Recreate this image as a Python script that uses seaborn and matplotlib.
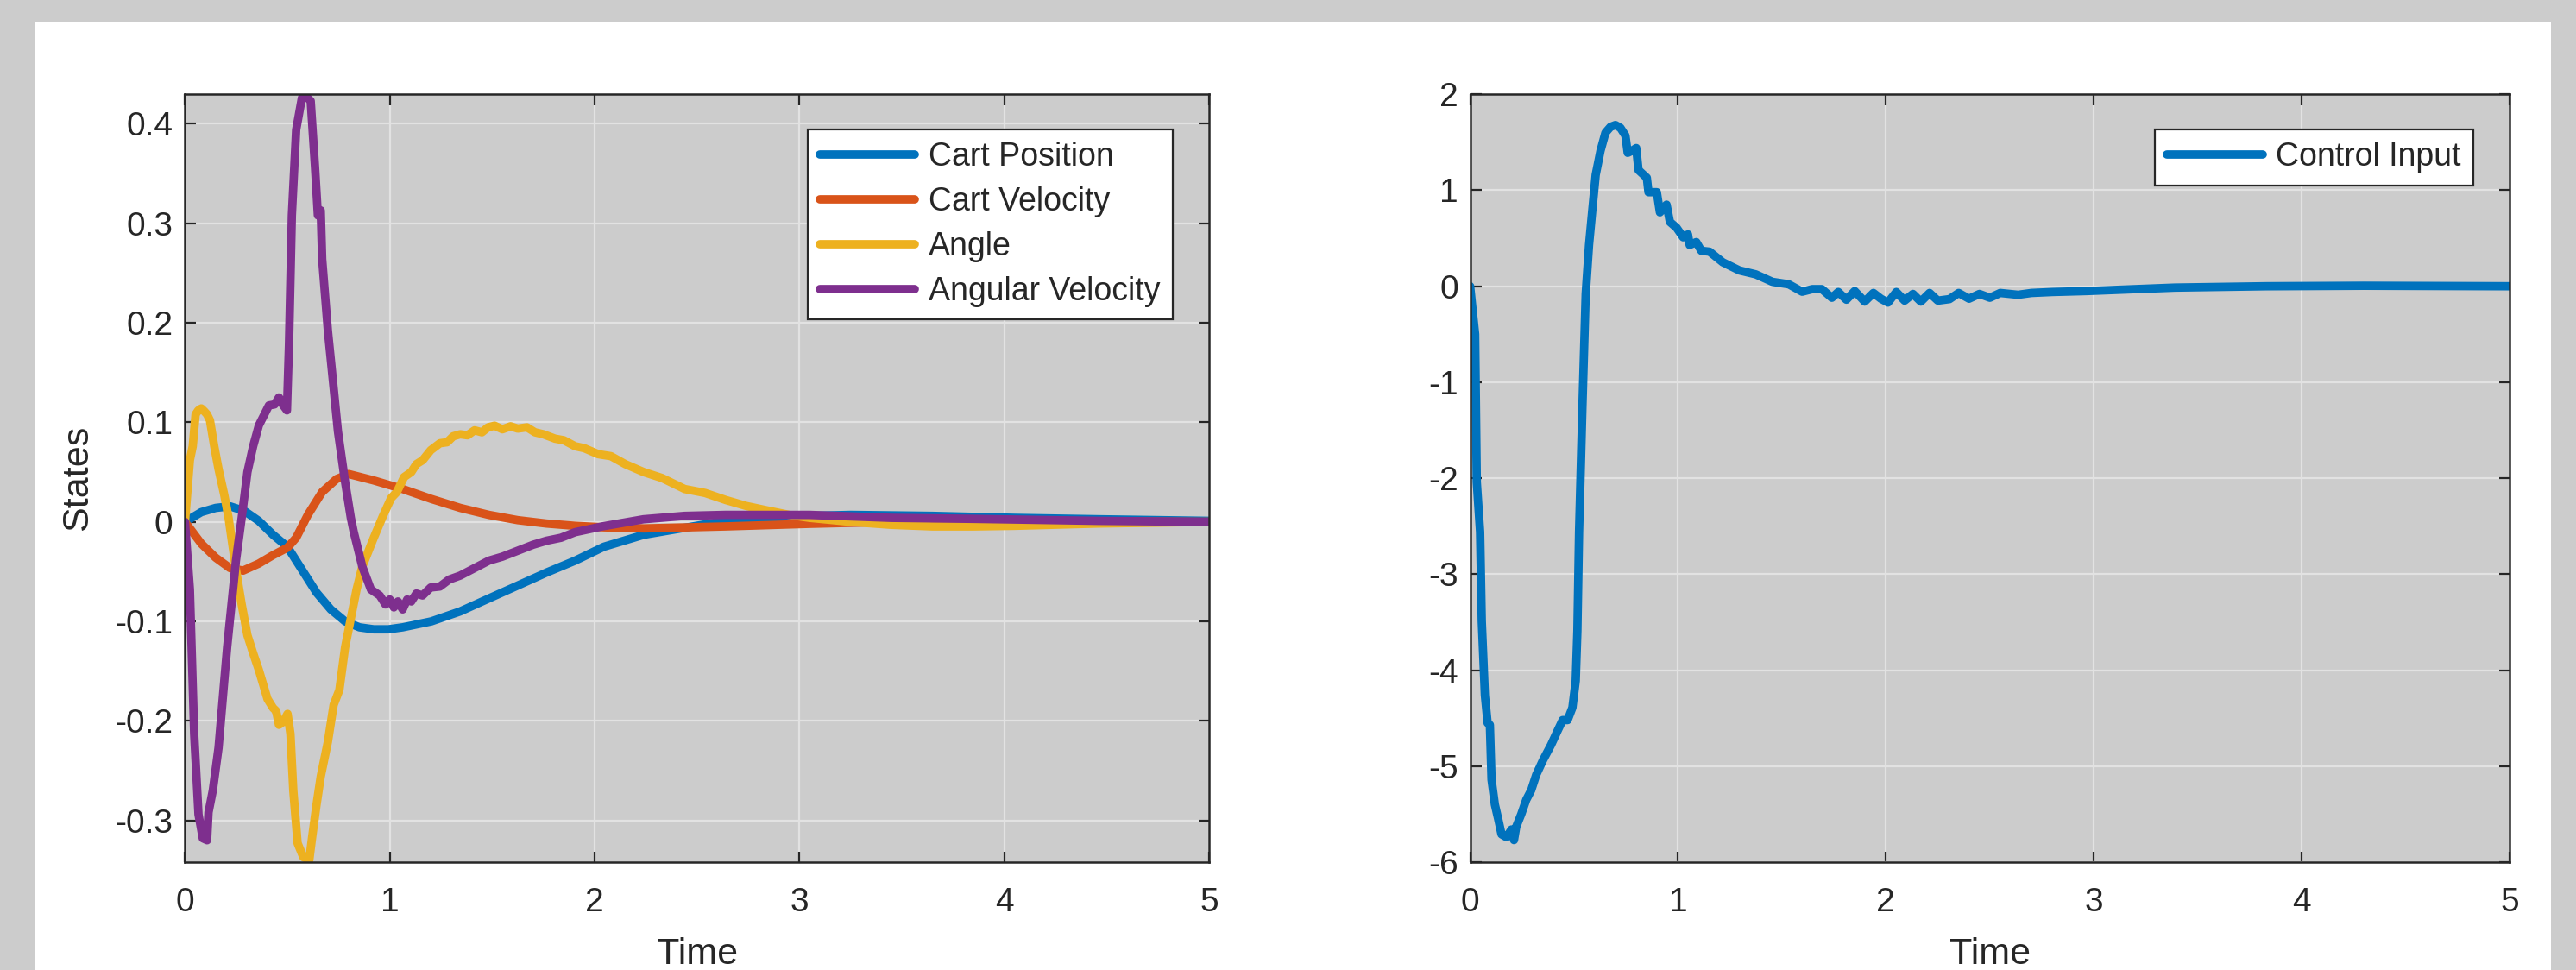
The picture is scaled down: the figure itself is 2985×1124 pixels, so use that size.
import matplotlib
matplotlib.use('Agg')
import matplotlib.pyplot as plt
import seaborn as sns
import pandas as pd
from matplotlib.patches import Rectangle
from matplotlib.ticker import FuncFormatter

# --- data ---
pos_t = [0, 0.08, 0.15, 0.22, 0.29, 0.36, 0.43, 0.50, 0.571, 0.642, 0.712, 0.782, 0.852, 0.922, 0.993,
         1.063, 1.203, 1.344, 1.484, 1.625, 1.765, 1.905, 2.046, 2.24, 2.44, 2.64, 2.84, 3.05, 3.25, 3.65,
         4.05, 4.46, 5.0]
pos_v = [0, 0.0098, 0.014, 0.0156, 0.011, 0.001, -0.013, -0.025, -0.048, -0.071, -0.088, -0.100, -0.106,
         -0.108, -0.108, -0.106, -0.100, -0.090, -0.077, -0.064, -0.051, -0.039, -0.025, -0.013, -0.006,
         0.001, 0.004, 0.006, 0.007, 0.006, 0.004, 0.0026, 0.001]

vel_t = [0, 0.08, 0.15, 0.22, 0.284, 0.36, 0.43, 0.50, 0.543, 0.60, 0.67, 0.74, 0.80, 0.922, 1.063, 1.203,
         1.344, 1.484, 1.625, 1.765, 1.905, 2.046, 2.24, 2.64, 3.05, 3.45, 3.85, 4.5, 5.0]
vel_v = [0, -0.022, -0.036, -0.0465, -0.049, -0.042, -0.0335, -0.026, -0.016, 0.007, 0.03, 0.043, 0.048,
         0.0416, 0.033, 0.023, 0.014, 0.007, 0.0017, -0.0017, -0.004, -0.0055, -0.0066, -0.0046, -0.002,
         0.0, 0.0009, 0.0005, 0.0]

ang_t = [0, 0.024, 0.038, 0.052, 0.065, 0.08, 0.095, 0.108, 0.122, 0.143, 0.164, 0.192, 0.213, 0.249,
         0.277, 0.305, 0.333, 0.361, 0.403, 0.43, 0.445, 0.459, 0.48, 0.501, 0.515, 0.529, 0.55, 0.578,
         0.607, 0.621, 0.642, 0.663, 0.698, 0.726, 0.754, 0.782, 0.81, 0.838, 0.866, 0.922, 0.965, 1.007,
         1.035, 1.07, 1.105, 1.13, 1.161, 1.2, 1.245, 1.28, 1.31, 1.344, 1.38, 1.414, 1.45, 1.48, 1.512,
         1.55, 1.59, 1.625, 1.67, 1.709, 1.75, 1.807, 1.85, 1.905, 1.95, 2.018, 2.08, 2.15, 2.24, 2.33,
         2.44, 2.54, 2.64, 2.74, 2.84, 2.95, 3.05, 3.25, 3.45, 3.65, 3.85, 4.05, 4.46, 5.0]
ang_v = [0, 0.062, 0.076, 0.108, 0.112, 0.114, 0.111, 0.108, 0.102, 0.076, 0.053, 0.027, 0.004, -0.048,
         -0.083, -0.114, -0.132, -0.149, -0.178, -0.187, -0.19, -0.204, -0.201, -0.193, -0.213, -0.27,
         -0.323, -0.337, -0.34, -0.317, -0.285, -0.256, -0.221, -0.184, -0.169, -0.126, -0.097, -0.068,
         -0.045, -0.016, 0.005, 0.024, 0.030, 0.045, 0.050, 0.058, 0.062, 0.072, 0.079, 0.080, 0.086,
         0.088, 0.087, 0.092, 0.090, 0.095, 0.0966, 0.093, 0.096, 0.0937, 0.095, 0.090, 0.088, 0.0836,
         0.082, 0.076, 0.074, 0.068, 0.066, 0.058, 0.050, 0.044, 0.033, 0.029, 0.022, 0.016, 0.0116,
         0.007, 0.004, 0.0, -0.003, -0.0046, -0.0046, -0.004, -0.0017, 0.0]

angvel_t = [0, 0.024, 0.045, 0.066, 0.087, 0.108, 0.115, 0.136, 0.164, 0.206, 0.249, 0.277, 0.305, 0.333,
            0.361, 0.41, 0.438, 0.459, 0.48, 0.498, 0.508, 0.522, 0.543, 0.571, 0.585, 0.614, 0.635, 0.649,
            0.663, 0.67, 0.698, 0.719, 0.747, 0.782, 0.81, 0.824, 0.866, 0.908, 0.951, 0.979, 1.0, 1.02,
            1.04, 1.063, 1.085, 1.105, 1.13, 1.16, 1.2, 1.245, 1.29, 1.344, 1.4, 1.484, 1.55, 1.625, 1.7,
            1.765, 1.836, 1.905, 2.037, 2.239, 2.44, 2.64, 3.05, 3.45, 3.85, 4.46, 5.0]
angvel_v = [0, -0.068, -0.213, -0.294, -0.318, -0.32, -0.292, -0.27, -0.227, -0.126, -0.039, 0.004, 0.05,
            0.076, 0.097, 0.117, 0.118, 0.125, 0.117, 0.112, 0.178, 0.308, 0.394, 0.426, 0.429, 0.423,
            0.357, 0.308, 0.313, 0.264, 0.192, 0.149, 0.091, 0.04, 0.004, -0.01, -0.045, -0.068, -0.074,
            -0.083, -0.078, -0.086, -0.080, -0.088, -0.078, -0.08, -0.072, -0.074, -0.066, -0.065, -0.058,
            -0.054, -0.048, -0.039, -0.035, -0.029, -0.023, -0.019, -0.016, -0.0104, -0.0046, 0.0026,
            0.006, 0.007, 0.007, 0.004, 0.003, 0.001, 0.0]

ctrl_t = [0, 0.024, 0.032, 0.048, 0.056, 0.071, 0.084, 0.095, 0.103, 0.119, 0.135, 0.151, 0.175, 0.199,
          0.211, 0.222, 0.246, 0.27, 0.294, 0.318, 0.35, 0.389, 0.421, 0.445, 0.469, 0.492, 0.508, 0.516,
          0.524, 0.54, 0.556, 0.572, 0.588, 0.604, 0.627, 0.651, 0.675, 0.699, 0.723, 0.747, 0.758, 0.778,
          0.799, 0.81, 0.85, 0.858, 0.898, 0.913, 0.945, 0.961, 0.993, 1.025, 1.048, 1.056, 1.088, 1.112,
          1.152, 1.215, 1.295, 1.374, 1.454, 1.533, 1.597, 1.646, 1.692, 1.74, 1.771, 1.81, 1.85, 1.898,
          1.94, 1.976, 2.01, 2.05, 2.09, 2.13, 2.168, 2.21, 2.25, 2.306, 2.35, 2.4, 2.45, 2.5, 2.55, 2.636,
          2.7, 2.8, 2.966, 3.39, 3.83, 4.3, 5.0]
ctrl_u = [0, -0.5, -2.04, -2.56, -3.49, -4.26, -4.55, -4.57, -5.14, -5.4, -5.55, -5.71, -5.74, -5.66,
          -5.77, -5.63, -5.5, -5.35, -5.25, -5.09, -4.94, -4.78, -4.63, -4.52, -4.52, -4.39, -4.11, -3.59,
          -2.56, -1.27, -0.08, 0.43, 0.8, 1.16, 1.41, 1.6, 1.66, 1.68, 1.65, 1.57, 1.39, 1.41, 1.44, 1.21,
          1.13, 0.98, 0.98, 0.77, 0.85, 0.67, 0.61, 0.51, 0.54, 0.43, 0.46, 0.37, 0.36, 0.25, 0.165, 0.124,
          0.046, 0.02, -0.057, -0.03, -0.03, -0.12, -0.06, -0.14, -0.05, -0.16, -0.07, -0.13, -0.17, -0.06,
          -0.15, -0.08, -0.16, -0.07, -0.15, -0.134, -0.07, -0.13, -0.08, -0.12, -0.07, -0.089, -0.07,
          -0.06, -0.05, -0.014, 0.0, 0.005, 0.0]

state_names = ['Cart Position', 'Cart Velocity', 'Angle', 'Angular Velocity']
left_yticks = [-0.3, -0.2, -0.1, 0, 0.1, 0.2, 0.3, 0.4]
right_yticks = [-6, -5, -4, -3, -2, -1, 0, 1, 2]

states = pd.concat([
    pd.DataFrame({'Time': pos_t, 'value': pos_v, 'state': state_names[0]}),
    pd.DataFrame({'Time': vel_t, 'value': vel_v, 'state': state_names[1]}),
    pd.DataFrame({'Time': ang_t, 'value': ang_v, 'state': state_names[2]}),
    pd.DataFrame({'Time': angvel_t, 'value': angvel_v, 'state': state_names[3]}),
])
control = pd.DataFrame({'Time': ctrl_t, 'u': ctrl_u})

sns.set_theme(style='whitegrid')
plt.rcParams['font.family'] = ['Liberation Sans', 'DejaVu Sans']
plt.rcParams['axes.unicode_minus'] = False

GRAY = '#cccccc'
EDGE = '#262626'
palette = ['#0072bd', '#d95319', '#edb120', '#7e2f8e']
LW = 7

fig = plt.figure(figsize=(29.85, 11.24), dpi=100, facecolor=GRAY)
fig.add_artist(Rectangle((41 / 2985, 0), 2915 / 2985, 1099 / 1124, transform=fig.transFigure,
                         facecolor='white', edgecolor='none', zorder=-10))
ax1 = fig.add_axes([0.0718, 0.1112, 0.3975, 0.7916])
ax2 = fig.add_axes([0.5707, 0.1112, 0.4035, 0.7916])

for name, col in zip(state_names, palette):
    sub = states[states['state'] == name]
    sns.lineplot(data=sub, x='Time', y='value', ax=ax1, color=col, linewidth=LW,
                 label=name, estimator=None, sort=False)

sns.lineplot(data=control, x='Time', y='u', ax=ax2, color=palette[0], linewidth=LW,
             label='Control Input', estimator=None, sort=False)

fmt = FuncFormatter(lambda v, p: f'{round(v, 6):g}')


def style(ax, yticks, ylim):
    ax.set_facecolor(GRAY)
    ax.grid(True, color='#e2e2e2', linewidth=1.6)
    ax.set_axisbelow(True)
    for s in ax.spines.values():
        s.set_visible(True)
        s.set_color(EDGE)
        s.set_linewidth(1.8)
    ax.tick_params(direction='in', length=9, width=1.6, color=EDGE, labelsize=28, labelcolor=EDGE,
                   top=True, right=True, bottom=True, left=True)
    ax.tick_params(axis='x', pad=21)
    ax.tick_params(axis='y', pad=10)
    ax.set_xlim(0, 5)
    ax.set_xticks(range(6))
    ax.set_yticks(yticks)
    ax.set_ylim(*ylim)
    ax.xaxis.set_major_formatter(fmt)
    ax.yaxis.set_major_formatter(fmt)
    ax.set_xlabel('Time', fontsize=31, color=EDGE, labelpad=16)


style(ax1, left_yticks, (-0.342, 0.4297))
style(ax2, right_yticks, (-6, 2))
ax1.set_ylabel('States', fontsize=31, color=EDGE, labelpad=17)
ax2.set_ylabel('')

for ax, w, h in [(ax1, 1187, 890), (ax2, 1205, 890)]:
    leg = ax.legend(loc='upper right', bbox_to_anchor=(1 - 42 / w, 1 - 41 / h), borderaxespad=0,
                    fontsize=27, frameon=True, fancybox=False, framealpha=1, facecolor='white',
                    edgecolor=EDGE, handlelength=2.95, handletextpad=0.42, labelspacing=0.42,
                    borderpad=0.38)
    leg.get_frame().set_linewidth(1.6)

fig.savefig('out.png', dpi=100, facecolor=fig.get_facecolor())
